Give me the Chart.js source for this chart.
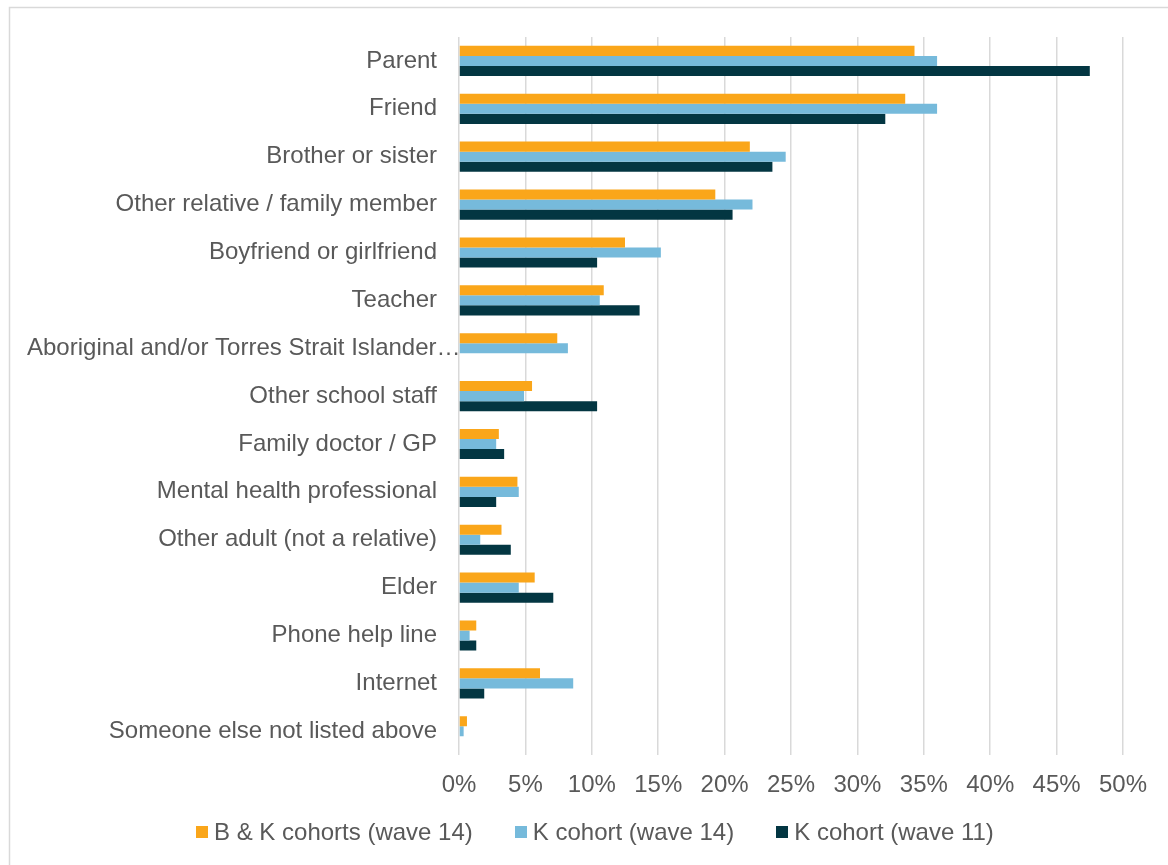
<!DOCTYPE html>
<html>
<head>
<meta charset="utf-8">
<script src="https://cdn.jsdelivr.net/npm/chart.js@4/dist/chart.umd.min.js"></script>
<style>
  body { margin: 0; background: #fff; }
  #wrap { position: relative; width: 1168px; height: 865px; }
  #legend {
    position: absolute; left: 196px; top: 818px; height: 28px;
    display: flex; align-items: center; gap: 42px;
    font: 24px "Liberation Sans", Arial, sans-serif; color: #595959;
  }
  #legend .item { display: flex; align-items: center; white-space: nowrap; }
  #legend .box { width: 12px; height: 12px; margin-right: 6px; }
</style>
</head>
<body>
<div id="wrap">
  <canvas id="chart" width="1168" height="865"></canvas>
  <div id="legend"></div>
</div>
<script>
// categories (top to bottom)
const categories = [
  'Parent',
  'Friend',
  'Brother or sister',
  'Other relative / family member',
  'Boyfriend or girlfriend',
  'Teacher',
  'Aboriginal and/or Torres Strait Islander…',
  'Other school staff',
  'Family doctor / GP',
  'Mental health professional',
  'Other adult (not a relative)',
  'Elder',
  'Phone help line',
  'Internet',
  'Someone else not listed above'
];

// percentages
const bkWave14 = [34.3, 33.6, 21.9, 19.3, 12.5, 10.9, 7.4, 5.5, 3.0, 4.4, 3.2, 5.7, 1.3, 6.1, 0.6];
const kWave14 = [36.0, 36.0, 24.6, 22.1, 15.2, 10.6, 8.2, 4.9, 2.8, 4.5, 1.6, 4.5, 0.8, 8.6, 0.35];
const kWave11 = [47.5, 32.1, 23.6, 20.6, 10.4, 13.6, null, 10.4, 3.4, 2.8, 3.9, 7.1, 1.3, 1.9, null];

const xTicks = [0, 5, 10, 15, 20, 25, 30, 35, 40, 45, 50];

const FONT = '"Liberation Sans", Arial, sans-serif';
const TEXT = '#595959';
const GRID = '#d9d9d9';

// frame round the chart (only top and left edge are in view)
const framePlugin = {
  id: 'frame',
  beforeDraw (chart) {
    const ctx = chart.ctx;
    ctx.save();
    ctx.strokeStyle = GRID;
    ctx.lineWidth = 1.5;
    ctx.beginPath();
    ctx.moveTo(9.5, chart.height);
    ctx.lineTo(9.5, 7.5);
    ctx.lineTo(chart.width, 7.5);
    ctx.stroke();
    ctx.restore();
  }
};

// category labels, right aligned; too long ones overflow to the right like Excel does
const catLabelPlugin = {
  id: 'catLabels',
  afterDraw (chart) {
    const ctx = chart.ctx;
    const yScale = chart.scales.y;
    const right = 437;
    const minLeft = 27;
    ctx.save();
    ctx.font = '24px ' + FONT;
    ctx.fillStyle = TEXT;
    ctx.textBaseline = 'middle';
    chart.data.labels.forEach((label, i) => {
      const y = yScale.getPixelForValue(i);
      const w = ctx.measureText(label).width;
      if (right - w < minLeft) {
        ctx.textAlign = 'left';
        ctx.fillText(label, minLeft, y);
      } else {
        ctx.textAlign = 'right';
        ctx.fillText(label, right, y);
      }
    });
    ctx.restore();
  }
};

const chart = new Chart(document.getElementById('chart'), {
  type: 'bar',
  data: {
    labels: categories,
    datasets: [
      { label: 'B & K cohorts (wave 14)', data: bkWave14, backgroundColor: '#FAA61A' },
      { label: 'K cohort (wave 14)', data: kWave14, backgroundColor: '#76BADB' },
      { label: 'K cohort (wave 11)', data: kWave11, backgroundColor: '#033642' }
    ]
  },
  options: {
    indexAxis: 'y',
    responsive: false,
    animation: false,
    layout: { padding: { left: 0, right: 45, top: 37, bottom: 49 } },
    datasets: {
      bar: { categoryPercentage: 0.63, barPercentage: 1.0, borderWidth: 0 }
    },
    plugins: {
      legend: { display: false },
      tooltip: { enabled: false }
    },
    scales: {
      x: {
        min: 0,
        max: 50,
        afterBuildTicks: (scale) => { scale.ticks = xTicks.map(v => ({ value: v })); },
        grid: { color: GRID, lineWidth: 1.5, drawTicks: false },
        border: { display: false },
        ticks: {
          padding: 16,
          color: TEXT,
          font: { family: FONT, size: 24 },
          callback: (v) => v + '%'
        }
      },
      y: {
        grid: { display: false },
        border: { display: false },
        ticks: { display: false },
        afterFit: (scale) => { scale.width = 459; }
      }
    }
  },
  plugins: [framePlugin, catLabelPlugin]
});

// legend as plain html under the chart
const legendEl = document.getElementById('legend');
chart.data.datasets.forEach((ds) => {
  const item = document.createElement('div');
  item.className = 'item';
  const box = document.createElement('span');
  box.className = 'box';
  box.style.background = ds.backgroundColor;
  const txt = document.createElement('span');
  txt.textContent = ds.label;
  item.appendChild(box);
  item.appendChild(txt);
  legendEl.appendChild(item);
});
</script>
</body>
</html>
